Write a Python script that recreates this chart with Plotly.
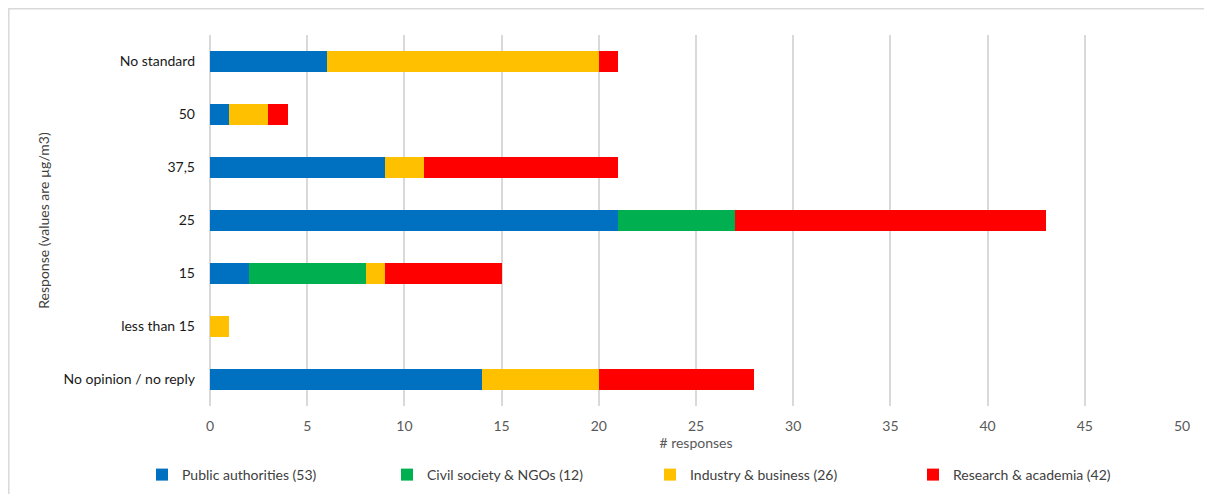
import plotly.graph_objects as go

categories = ["No standard", "50", "37,5", "25", "15", "less than 15", "No opinion / no reply"]
public_authorities = [6, 1, 9, 21, 2, 0, 14]
civil_society = [0, 0, 0, 6, 6, 0, 0]
industry_business = [14, 2, 2, 0, 1, 1, 6]
research_academia = [1, 1, 10, 16, 6, 0, 8]

series_names = ["Public authorities (53)", "Civil society & NGOs (12)",
                "Industry & business (26)", "Research & academia (42)"]
series_values = [public_authorities, civil_society, industry_business, research_academia]
colors = ["#0070C0", "#00B050", "#FFC000", "#FF0000"]
x_ticks = [0, 5, 10, 15, 20, 25, 30, 35, 40, 45, 50]

FONT = "Lato, 'Open Sans', sans-serif"
FS = 14

# page is offset by the 8px body margin; work in figure coordinates
W, H = 1204, 486
OFF = 8
ml, mr, mt, mb = 210 - OFF, 30, 35 - OFF, 88
pw, ph = W - ml - mr, H - mt - mb

def px_to_paper_x(px):
    return (px - OFF - ml) / pw

def px_to_paper_y(py):
    return (H - mb - (py - OFF)) / ph

fig = go.Figure()
legend_ids = ["legend", "legend2", "legend3", "legend4"]
legend_left_px = [134, 379, 642, 905]
for name, vals, col, lid in zip(series_names, series_values, colors, legend_ids):
    fig.add_trace(go.Bar(
        y=categories, x=vals, name=name, orientation="h",
        marker=dict(color=col, line=dict(width=0)),
        legend=lid, showlegend=True,
    ))

legend_common = dict(orientation="h", yanchor="middle", xanchor="left",
                     xref="container", yref="container",
                     font=dict(family=FONT, size=FS, color="#404040"),
                     bgcolor="rgba(0,0,0,0)", itemwidth=30)
layout_legends = {}
for lid, lx in zip(legend_ids, legend_left_px):
    layout_legends[lid] = dict(legend_common, x=lx / W, y=1 - (475 - OFF) / H)

fig.update_layout(
    width=W, height=H,
    showlegend=True,
    margin=dict(l=ml, r=mr, t=mt, b=mb, autoexpand=False),
    barmode="stack",
    bargap=0.62,
    plot_bgcolor="white",
    paper_bgcolor="white",
    font=dict(family=FONT, size=FS, color="#404040"),
    xaxis=dict(
        range=[0, 50], tickvals=x_ticks,
        showgrid=True, gridcolor="#D9D9D9", gridwidth=1.5,
        zeroline=True, zerolinecolor="#D9D9D9", zerolinewidth=1.5,
        showline=False, ticks="",
        ticklabelstandoff=10,
        tickfont=dict(family=FONT, size=FS, color="#595959"),
        title=dict(text="# responses", font=dict(family=FONT, size=FS, color="#595959"), standoff=4),
    ),
    yaxis=dict(
        categoryorder="array", categoryarray=categories[::-1],
        showgrid=False, zeroline=False, showline=False, ticks="",
        ticklabelstandoff=14,
        tickfont=dict(family=FONT, size=FS, color="#1a1a1a"),
        title=dict(text="Response (values are µg/m3)", font=dict(family=FONT, size=FS, color="#404040"), standoff=10),
    ),
    shapes=[dict(type="rect", xref="paper", yref="paper",
                 x0=px_to_paper_x(8.8), x1=px_to_paper_x(1230),
                 y0=px_to_paper_y(520), y1=px_to_paper_y(8.8),
                 line=dict(color="#D9D9D9", width=1.5), layer="below")],
    **layout_legends,
)

fig.write_html("out.html")
